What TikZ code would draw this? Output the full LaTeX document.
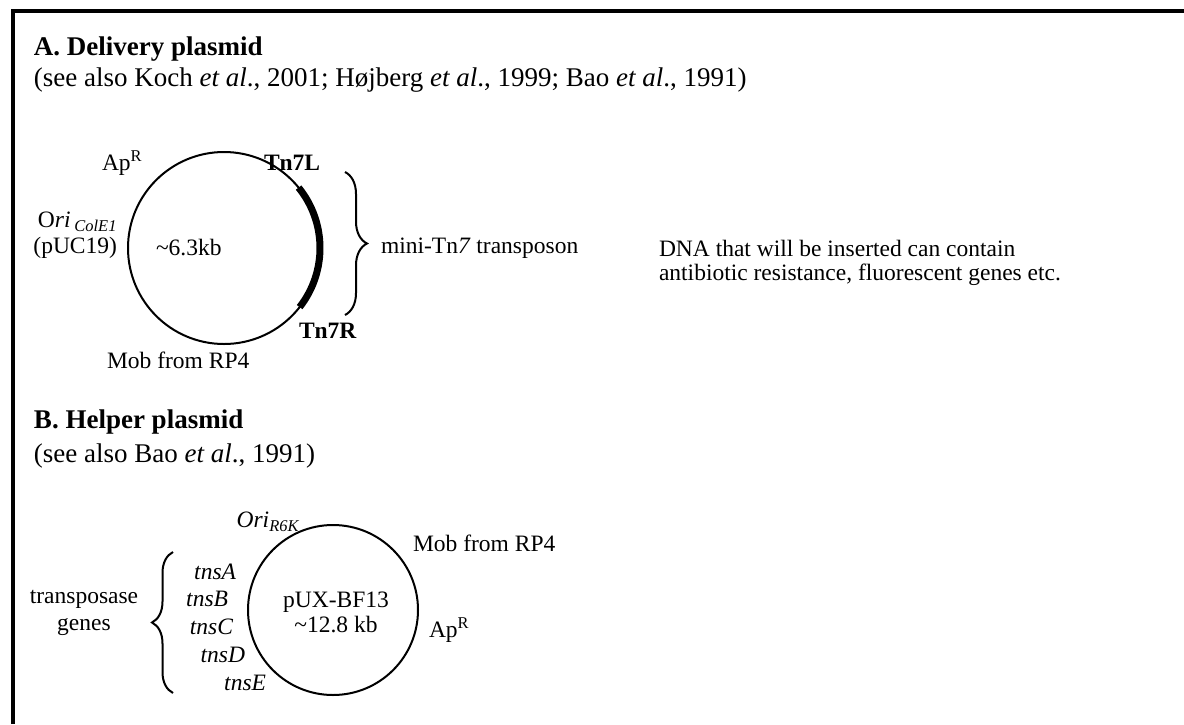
\documentclass[tikz,border=0pt]{standalone}
\usepackage{fontspec}
\setmainfont{Liberation Serif}
\usetikzlibrary{decorations.pathreplacing}
\tikzset{
  lbl/.style={inner sep=0pt, font=\fontsize{23.5}{26}\selectfont},
  boldlbl/.style={lbl, font=\fontsize{23.5}{26}\selectfont\bfseries},
  gene/.style={lbl, anchor=east, font=\fontsize{23.5}{26}\selectfont\itshape},
  head/.style={inner sep=0pt, anchor=base west, font=\fontsize{27}{32}\selectfont\bfseries},
  cite/.style={inner sep=0pt, anchor=base west, font=\fontsize{27}{32}\selectfont},
  plasmid/.style={draw, circle, inner sep=0pt, minimum size=#1},
  curly/.style={decorate, decoration={brace, amplitude=#1}}
}
\begin{document}
\begin{tikzpicture}[x=1pt,y=1pt,line width=2pt]
  \useasboundingbox (0,0) rectangle (1184,-724);
  \draw [line width=4pt] (13,-724) -- (13,-11) -- (1184,-11);
  \node[head] (titleA) at (33,-55) {A. Delivery plasmid};
  \node[cite] (citeA) at (33,-86) {(see also Koch \textit{et al}., 2001; Højberg \textit{et al}., 1999; Bao \textit{et al}., 1991)};
  \node[plasmid=192pt] (pA) at (224,-248) {};
  \draw [line width=7pt] ([shift={(39:96)}]pA.center) arc[start angle=39, end angle=-38, radius=96];
  \node[lbl, anchor=west] (apA) at (101,-163) {Ap\textsuperscript{R}};
  \node[lbl, anchor=east] (oriA) at (118,-222) {O\textit{ri}\,\textsubscript{\textit{ColE1}}};
  \node[lbl, anchor=east] (pucA) at (118,-248) {(pUC19)};
  \node[lbl, anchor=west] (sizeA) at (155,-248) {\textasciitilde6.3kb};
  \node[boldlbl, anchor=west] (tnL) at (263,-163) {Tn7L};
  \node[boldlbl, anchor=west] (tnR) at (298,-331) {Tn7R};
  \node[lbl, anchor=west] (mobA) at (106,-360) {Mob from RP4};
  \coordinate (bA1) at (345,-172);
  \coordinate (bA2) at (345,-315);
  \draw [curly=22pt] (bA1) -- (bA2);
  \node[lbl, anchor=west] (miniTn) at (380,-248) {mini-Tn\textit{7} transposon};
  \node[lbl, anchor=west] (dna1) at (658,-248) {DNA that will be inserted can contain};
  \node[lbl, anchor=west] (dna2) at ([yshift=-27pt]dna1.west) {antibiotic resistance, fluorescent genes etc.};
  \node[head] (titleB) at (33,-428) {B. Helper plasmid};
  \node[cite] (citeB) at (33,-462) {(see also Bao \textit{et al}., 1991)};
  \node[plasmid=170pt] (pB) at (333,-610) {};
  \node[lbl, align=center, font=\fontsize{23.5}{25}\selectfont] (nameB) at (336,-612) {pUX-BF13\\\textasciitilde12.8 kb};
  \node[lbl, anchor=east, font=\fontsize{23.5}{26}\selectfont\itshape] (oriB) at (300,-522) {Ori\textsubscript{R6K}};
  \node[lbl, anchor=west] (mobB) at (412,-543) {Mob from RP4};
  \node[lbl, anchor=west] (apB) at (428,-630) {Ap\textsuperscript{R}};
  \foreach \g/\x/\y in {A/237/572, B/229/599, C/234/627, D/246/655, E/267/683}
    \node[gene] (tns\g) at (\x,-\y) {tns\g};
  \coordinate (bB1) at (173,-693);
  \coordinate (bB2) at (173,-552);
  \draw [curly=21pt] (bB1) -- (bB2);
  \node[lbl, align=center, font=\fontsize{23.5}{27}\selectfont] (tpase) at (84,-613) {transposase\\genes};
\end{tikzpicture}
\end{document}
